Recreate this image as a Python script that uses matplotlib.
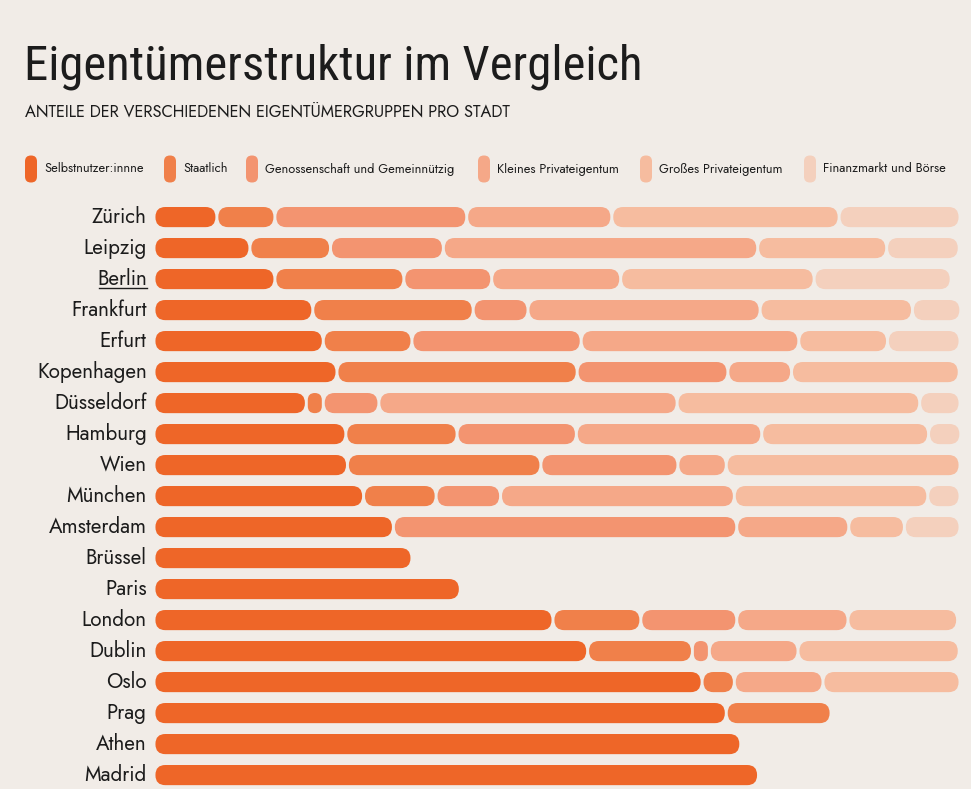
import numpy as np
import matplotlib
matplotlib.use("Agg")
import matplotlib.pyplot as plt
from matplotlib import font_manager as fm
from matplotlib.patches import FancyBboxPatch
from matplotlib.lines import Line2D

# --- DATA (shares in %) ---
cities = ["Zürich", "Leipzig", "Berlin", "Frankfurt", "Erfurt", "Kopenhagen",
          "Düsseldorf", "Hamburg", "Wien", "München", "Amsterdam", "Brüssel",
          "Paris", "London", "Dublin", "Oslo", "Prag", "Athen", "Madrid"]
categories = ["Selbstnutzer:innne", "Staatlich", "Genossenschaft und Gemeinnützig",
              "Kleines Privateigentum", "Großes Privateigentum", "Finanzmarkt und Börse"]

selbstnutzer   = [7.8, 11.9, 15.0, 19.7, 21.0, 22.7, 18.9, 23.8, 24.0, 26.0, 29.7, 32.0, 38.0, 49.5, 53.8, 68.0, 71.0, 72.8, 75.0]
staatlich      = [7.2, 10.0, 16.0, 19.9, 11.0, 29.8, 2.1, 13.8, 24.0, 9.0, 0, 0, 0, 10.9, 13.0, 4.0, 13.0, 0, 0]
genossenschaft = [23.8, 14.0, 10.9, 6.8, 21.0, 18.7, 6.9, 14.8, 17.0, 8.0, 42.6, 0, 0, 11.9, 2.1, 0, 0, 0, 0]
klein_privat   = [18.0, 39.0, 16.0, 28.8, 27.0, 7.9, 37.0, 23.0, 6.0, 29.0, 13.9, 0, 0, 13.8, 11.0, 11.0, 0, 0, 0]
gross_privat   = [28.2, 16.0, 24.0, 18.9, 11.0, 20.8, 30.1, 20.7, 29.0, 24.0, 6.9, 0, 0, 13.6, 20.0, 17.0, 0, 0, 0]
finanzmarkt    = [15.0, 9.0, 17.0, 6.0, 9.0, 0, 5.0, 4.0, 0, 4.0, 6.9, 0, 0, 0, 0, 0, 0, 0, 0]

colors = ["#EE6628", "#F0804A", "#F39470", "#F5A888", "#F6BC9F", "#F4D0BD"]
BG = "#F1ECE7"
TXT = "#1C1C1C"

series = [selbstnutzer, staatlich, genossenschaft, klein_privat, gross_privat, finanzmarkt]


def pick_font(candidates):
    installed = {f.name for f in fm.fontManager.ttflist}
    for c in candidates:
        if c in installed:
            return c
    return "DejaVu Sans"


LABEL_FONT = pick_font(["Jost", "Futura", "League Spartan", "Lato"])
TITLE_FONT = pick_font(["Roboto Condensed", "Archivo Narrow", "IBM Plex Sans Condensed",
                        "PT Sans Narrow", "Oswald"])

# --- LAYOUT ---
W, H = 971, 789
fig = plt.figure(figsize=(W / 100, H / 100), dpi=100, facecolor=BG)
ax = fig.add_axes([154 / W, -0.002, 806 / W, 589 / H])
ax.set_facecolor(BG)
ax.set_xlim(0, 100)
ax.set_ylim(len(cities) - 0.5, -0.5)
ax.axis("off")

px_x = 806 / 100          # pixels per x unit
px_y = 31                 # pixels per row
aspect = px_x / px_y      # y units per x unit (pixel-equal)
bar_h = 0.65
gap = 0.18                # in x units

for i, city in enumerate(cities):
    left = 0.0
    for k, vals in enumerate(series):
        w = vals[i]
        if w <= 0:
            continue
        x0 = left + gap
        ww = w - 2 * gap
        r = min(bar_h / aspect / 2 * 0.98, ww / 2)
        p = FancyBboxPatch((x0, i - bar_h / 2), ww, bar_h,
                           boxstyle=f"round,pad=0,rounding_size={r}",
                           mutation_aspect=aspect,
                           facecolor=colors[k], edgecolor="none")
        ax.add_patch(p)
        left += w
    t = ax.text(-0.9, i, city, ha="right", va="center", fontsize=14.8,
                color=TXT, family=LABEL_FONT)
    if city == "Berlin":
        berlin_label = t

# --- TITLE ---
title = fig.text(24 / W, 1 - 79 / H, "Eigentümerstruktur im Vergleich", fontsize=33,
                 family=TITLE_FONT, color=TXT, ha="left", va="baseline")
fig.text(25 / W, 1 - 116 / H, "ANTEILE DER VERSCHIEDENEN EIGENTÜMERGRUPPEN PRO STADT",
         fontsize=11.8, family=LABEL_FONT, color=TXT, ha="left", va="baseline")

# --- LEGEND ---
leg_x = [25, 164, 246, 478, 640, 804]
leg_y = 1 - 169 / H
for k, name in enumerate(categories):
    mx = leg_x[k] / W
    mw, mh = 12 / W, 27 / H
    p = FancyBboxPatch((mx, leg_y - mh / 2), mw, mh,
                       boxstyle=f"round,pad=0,rounding_size={mw / 2 * 0.98}",
                       mutation_aspect=(W / H),
                       facecolor=colors[k], edgecolor="none",
                       transform=fig.transFigure)
    fig.patches.append(p)
    fig.text(mx + 19 / W, leg_y, name, fontsize=9.2, family=LABEL_FONT,
             color=TXT, ha="left", va="center")

# stretch the title to the reference width (620 px) by adjusting size
fig.canvas.draw()
tw = title.get_window_extent().width
title.set_fontsize(33 * min(max(620 / tw, 0.8), 1.25))

# underline Berlin
fig.canvas.draw()
bb = berlin_label.get_window_extent().transformed(fig.transFigure.inverted())
fig.add_artist(Line2D([bb.x0 + 0.002, bb.x1], [bb.y0 + 0.003, bb.y0 + 0.003],
                      color=TXT, lw=1.0, transform=fig.transFigure))

fig.savefig("out.png", dpi=100, facecolor=BG)
